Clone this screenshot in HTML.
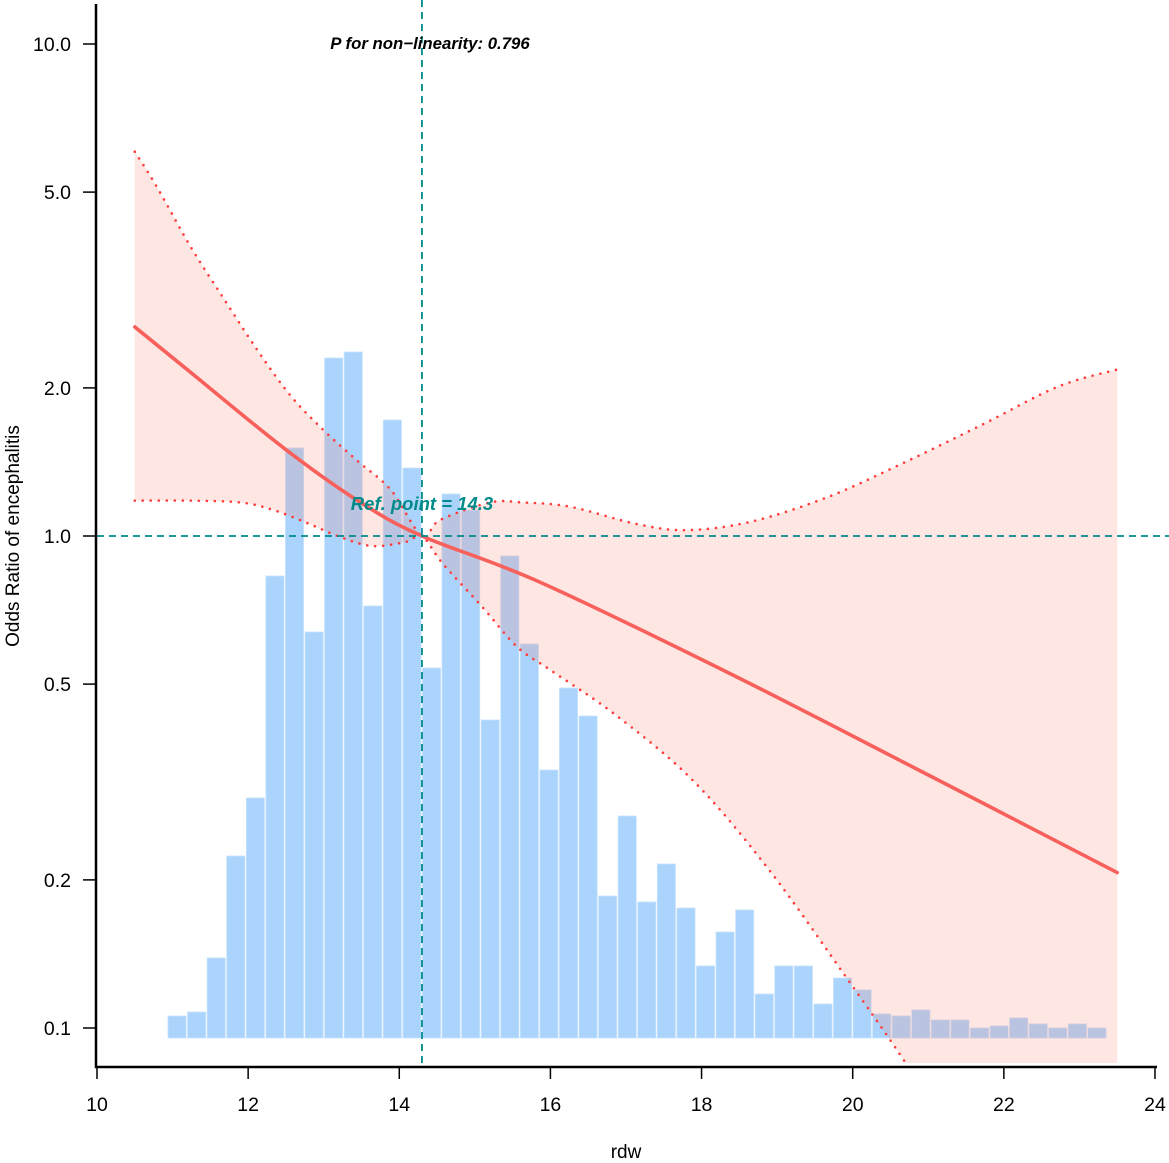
<!DOCTYPE html>
<html><head><meta charset="utf-8"><style>
html,body{margin:0;padding:0;background:#fff;overflow:hidden;width:1169px;height:1163px;}
svg{display:block;font-family:"Liberation Sans",Arial,sans-serif;}
</style></head><body>
<svg id="chart" width="1169" height="1163" viewBox="0 0 1169 1163" xmlns="http://www.w3.org/2000/svg">
<defs><clipPath id="plotclip"><rect x="97" y="0" width="1072" height="1063"/></clipPath></defs>
<g id="bars"></g>
<g id="band" clip-path="url(#plotclip)"></g>
<g id="lines" clip-path="url(#plotclip)"></g>
<g id="axes"></g>
<text x="430" y="49" font-size="16.8" font-weight="bold" font-style="italic" text-anchor="middle" fill="#000">P for non−linearity: 0.796</text>
<text x="422" y="510" font-size="18.5" font-weight="bold" font-style="italic" text-anchor="middle" fill="#008b8b">Ref. point = 14.3</text>
<text x="626" y="1158" font-size="19" text-anchor="middle" fill="#000">rdw</text>
<text transform="translate(19,536) rotate(-90)" font-size="19" text-anchor="middle" fill="#000">Odds Ratio of encephalitis</text>
</svg>
<script>
// ---- data ----
const binStart = 10.93;
const binWidth = 0.259;
const binCounts = [11,13,40,91,120,231,295,203,340,343,216,309,285,185,272,264,159,241,197,134,175,161,71,111,68,87,65,36,53,64,22,36,36,17,30,24,12,11,14,9,9,5,6,10,7,5,7,5];
const fitX  = [10.5,11.24,12.47,13.45,14.3,15.86,18.39,20.93,23.5];
const fitOR = [2.66,2.15,1.51,1.18,1.0,0.806,0.524,0.331,0.207];
const upX  = [10.5,10.79,11.24,11.67,12.12,12.56,13.0,13.45,13.89,14.3,14.54,15.2,15.63,16.26,17.14,17.8,18.65,19.67,20.68,21.7,22.71,23.5];
const upOR = [6.04,5.13,3.87,3.05,2.39,1.93,1.64,1.42,1.24,1.0,1.078,1.17,1.17,1.147,1.058,1.028,1.069,1.20,1.41,1.68,2.01,2.18];
const loX  = [10.5,11.24,11.9,12.33,12.78,13.22,13.65,14.1,14.3,14.58,15.11,15.56,16.0,16.87,17.89,18.9,19.91,20.67,21.5,22.5,23.5];
const loOR = [1.18,1.18,1.17,1.13,1.063,0.995,0.954,0.974,1.0,0.877,0.714,0.595,0.534,0.432,0.318,0.209,0.127,0.0863,0.055,0.035,0.022];
const xTicks = [10,12,14,16,18,20,22,24];
const yTicks = [0.1,0.2,0.5,1.0,2.0,5.0,10.0];
const yTickLabels = ["0.1","0.2","0.5","1.0","2.0","5.0","10.0"];
const refX = 14.3;
const refOR = 1.0;

// ---- scales ----
const NS = "http://www.w3.org/2000/svg";
const xS = v => 97 + (v - 10) * 75.57;
const yS = v => 536 - Math.log10(v) * 492;
const cS = c => 1038 - c * 2;
function mk(tag, attrs, parent){const e=document.createElementNS(NS,tag);for(const k in attrs)e.setAttribute(k,attrs[k]);parent.appendChild(e);return e;}
function smoothPath(xs, ys){
  const p = xs.map((x,i)=>[xS(x), yS(ys[i])]);
  let d = "M"+p[0][0]+","+p[0][1];
  for(let i=0;i<p.length-1;i++){
    const p0=p[i-1]||p[i], p1=p[i], p2=p[i+1], p3=p[i+2]||p2;
    const c1=[p1[0]+(p2[0]-p0[0])/6, p1[1]+(p2[1]-p0[1])/6];
    const c2=[p2[0]-(p3[0]-p1[0])/6, p2[1]-(p3[1]-p1[1])/6];
    d+=" C"+c1[0]+","+c1[1]+" "+c2[0]+","+c2[1]+" "+p2[0]+","+p2[1];
  }
  return d;
}
function smoothPathRev(xs, ys){return smoothPath(xs.slice().reverse(), ys.slice().reverse());}

// bars
const gB = document.getElementById('bars');
binCounts.forEach((c,i)=>{
  const x0 = xS(binStart + i*binWidth), x1 = xS(binStart + (i+1)*binWidth);
  const r = mk('rect',{x:x0+0.7,y:cS(c),width:x1-x0-1.4,height:cS(0)-cS(c),fill:'#aad4fb',stroke:'#c9e3fc','stroke-width':0.8},gB);
  
  
});

// band
const gBand = document.getElementById('band');
const bandD = smoothPath(upX, upOR) + " L" + smoothPathRev(loX, loOR).slice(1) + " Z";
const band = mk('path',{d:bandD,fill:'rgba(250,128,114,0.2)',stroke:'none'},gBand);



// lines
const gL = document.getElementById('lines');
const up = mk('path',{d:smoothPath(upX,upOR),fill:'none',stroke:'#ff3b3b','stroke-width':2.6,'stroke-dasharray':'0 8','stroke-linecap':'round'},gL);


const lo = mk('path',{d:smoothPath(loX,loOR),fill:'none',stroke:'#ff3b3b','stroke-width':2.6,'stroke-dasharray':'0 8','stroke-linecap':'round'},gL);


const fit = mk('path',{d:smoothPath(fitX,fitOR),fill:'none',stroke:'#f8605c','stroke-width':3.6,'stroke-linecap':'round'},gL);



// ref lines
const gA = document.getElementById('axes');
const vr = mk('line',{x1:xS(refX),x2:xS(refX),y1:0,y2:1067,stroke:'#008b8b','stroke-width':1.8,'stroke-dasharray':'7 5'},gA);


const hr = mk('line',{x1:97,x2:1169,y1:yS(refOR),y2:yS(refOR),stroke:'#008b8b','stroke-width':1.8,'stroke-dasharray':'7 5'},gA);



// axes
const ya = mk('line',{x1:96,x2:96,y1:4,y2:1068,stroke:'#000','stroke-width':2.5},gA);


const xa = mk('line',{x1:95,x2:1157,y1:1067,y2:1067,stroke:'#000','stroke-width':2.5},gA);


yTicks.forEach((v,i)=>{
  const y = yS(v);
  const t = mk('line',{x1:83,x2:96,y1:y,y2:y,stroke:'#000','stroke-width':1.5},gA);
  
  
  const l = mk('text',{x:71,y:y+7,'font-size':19.5,'text-anchor':'end',fill:'#000'},gA);
  l.textContent = yTickLabels[i];
  
  
});
xTicks.forEach(v=>{
  const x = xS(v);
  const t = mk('line',{x1:x,x2:x,y1:1067,y2:1079,stroke:'#000','stroke-width':1.5},gA);
  
  
  const l = mk('text',{x:x,y:1111,'font-size':19.5,'text-anchor':'middle',fill:'#000'},gA);
  l.textContent = String(v);
  
  
});
</script>
</body></html>
